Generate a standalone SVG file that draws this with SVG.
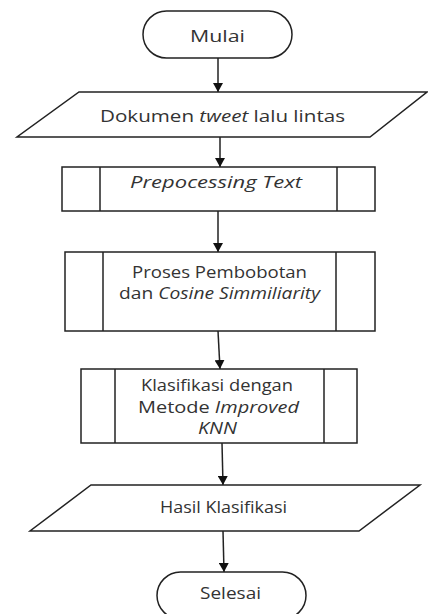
<svg xmlns="http://www.w3.org/2000/svg" width="428" height="614" viewBox="0 0 428 614">
<style>
.s{fill:#fff;stroke:#222;stroke-width:1.5}
.l{stroke:#222;stroke-width:1.5;fill:none}
.t{font-family:"Open Sans","Liberation Sans",sans-serif;font-size:17px;fill:#333}
.i{font-style:italic}
</style>
<defs>
<marker id="ah" markerUnits="userSpaceOnUse" markerWidth="10" markerHeight="10" refX="9" refY="5" orient="auto">
<path d="M0,0 L9,5 L0,10 Z" fill="#111"/>
</marker>
</defs>
<rect width="428" height="614" fill="#fff"/>
<g id="connectors">
<line class="l" x1="218" y1="58" x2="218" y2="92" marker-end="url(#ah)"/>
<line class="l" x1="220" y1="137" x2="220" y2="167" marker-end="url(#ah)"/>
<line class="l" x1="218" y1="211" x2="218" y2="252" marker-end="url(#ah)"/>
<line class="l" x1="218" y1="331" x2="220" y2="369" marker-end="url(#ah)"/>
<line class="l" x1="222" y1="443" x2="223" y2="485" marker-end="url(#ah)"/>
<line class="l" x1="223" y1="531" x2="224" y2="572" marker-end="url(#ah)"/>
</g>
<g id="mulai">
<rect class="s" x="143" y="11" width="149" height="47" rx="23.5"/>
<text class="t" x="190" y="42" textLength="55" lengthAdjust="spacingAndGlyphs">Mulai</text>
</g>
<g id="dokumen">
<polygon class="s" points="79,92 427,92 370,137 17,137"/>
<text class="t" x="100" y="122" textLength="245" lengthAdjust="spacingAndGlyphs">Dokumen <tspan class="i">tweet</tspan> lalu lintas</text>
</g>
<g id="prepocessing">
<rect class="s" x="62" y="167" width="313" height="44"/>
<line class="l" x1="100" y1="167" x2="100" y2="211"/>
<line class="l" x1="337" y1="167" x2="337" y2="211"/>
<text class="t i" x="130" y="188" textLength="172" lengthAdjust="spacingAndGlyphs">Prepocessing Text</text>
</g>
<g id="pembobotan">
<rect class="s" x="65" y="252" width="310" height="79"/>
<line class="l" x1="103" y1="252" x2="103" y2="331"/>
<line class="l" x1="336" y1="252" x2="336" y2="331"/>
<text class="t" x="132" y="278" textLength="175" lengthAdjust="spacingAndGlyphs">Proses Pembobotan</text>
<text class="t" x="119" y="299" textLength="201" lengthAdjust="spacingAndGlyphs">dan <tspan class="i">Cosine Simmiliarity</tspan></text>
</g>
<g id="klasifikasi">
<rect class="s" x="81" y="369" width="276" height="74"/>
<line class="l" x1="115" y1="369" x2="115" y2="443"/>
<line class="l" x1="324" y1="369" x2="324" y2="443"/>
<text class="t" x="141" y="391" textLength="152" lengthAdjust="spacingAndGlyphs">Klasifikasi dengan</text>
<text class="t" x="138" y="413" textLength="161" lengthAdjust="spacingAndGlyphs">Metode <tspan class="i">Improved</tspan></text>
<text class="t i" x="198" y="434" textLength="39" lengthAdjust="spacingAndGlyphs">KNN</text>
</g>
<g id="hasil">
<polygon class="s" points="91,485 420,485 359,531 30,531"/>
<text class="t" x="160" y="513" textLength="127" lengthAdjust="spacingAndGlyphs">Hasil Klasifikasi</text>
</g>
<g id="selesai">
<rect class="s" x="157" y="572" width="149" height="47" rx="23.5"/>
<text class="t" x="200" y="599" textLength="61" lengthAdjust="spacingAndGlyphs">Selesai</text>
</g>
</svg>
